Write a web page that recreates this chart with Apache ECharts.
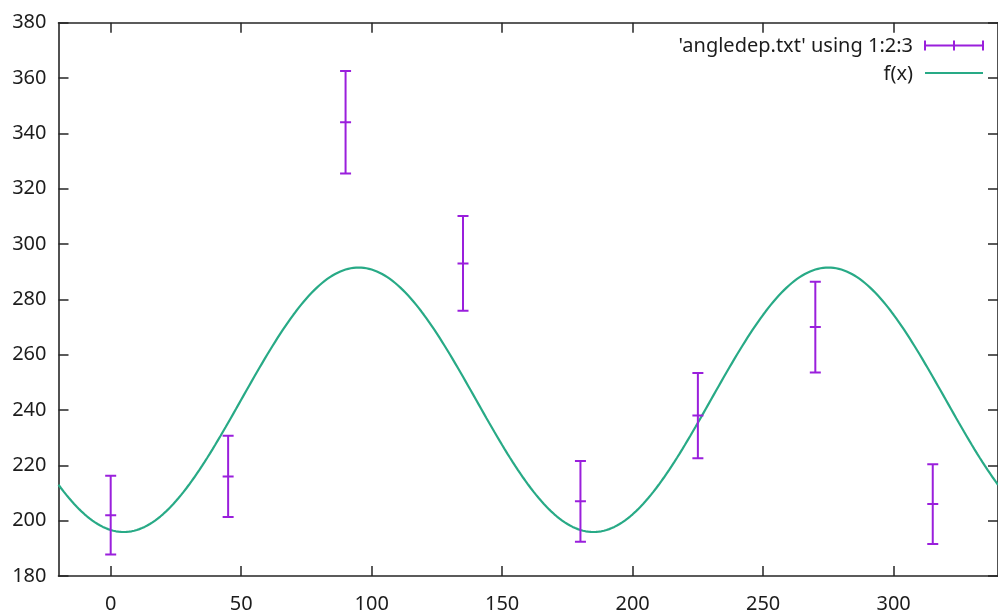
<!DOCTYPE html>
<html>
<head>
<meta charset="utf-8">
<script src="https://cdn.jsdelivr.net/npm/echarts@6/dist/echarts.min.js"></script>
<style>
  html, body { margin: 0; padding: 0; background: #fff; }
  #chart { width: 998px; height: 614px; }
</style>
</head>
<body>
<div id="chart"></div>
<script>
// Measured angle dependence: angle (deg), counts, uncertainty
var angles = [0, 45, 90, 135, 180, 225, 270, 315];
var counts = [202, 216, 344, 293, 207, 238, 270, 206];
var errors = [14.2, 14.7, 18.5, 17.1, 14.6, 15.4, 16.4, 14.4];

// Fitted model f(x) = offset - amp * cos(2 (x - phase))
var fitOffset = 243.7;
var fitAmp = 47.8;
var fitPhase = 5;

var xTicks = [0, 50, 100, 150, 200, 250, 300];
var yTicks = [180, 200, 220, 240, 260, 280, 300, 320, 340, 360, 380];

var X_MIN = -20, X_MAX = 340, Y_MIN = 180, Y_MAX = 380;

var fitCurve = [];
for (var x = X_MIN; x <= X_MAX; x += 1) {
  fitCurve.push([x, fitOffset - fitAmp * Math.cos(2 * (x - fitPhase) * Math.PI / 180)]);
}

var errData = angles.map(function (a, i) { return [a, counts[i], errors[i]]; });

var PURPLE = '#9a1fdc';
var GREEN = '#28aa86';
var AXIS = '#262626';
var TEXT = '#1c1c1c';
var FONT = 'Noto Sans';
var FS = 20;

var chart = echarts.init(document.getElementById('chart'), null, { renderer: 'canvas' });

function xAxisDef(pos, showLabels) {
  return {
    type: 'value', position: pos, min: X_MIN, max: X_MAX, interval: 50,
    axisLine: { show: true, onZero: false, lineStyle: { color: AXIS, width: 1.6 } },
    axisTick: { show: true, inside: true, length: 10, lineStyle: { color: AXIS, width: 1.5 },
      customValues: xTicks },
    axisLabel: { show: showLabels, customValues: xTicks, color: TEXT, fontFamily: FONT, fontSize: FS, margin: 18 },
    splitLine: { show: false }
  };
}
function yAxisDef(pos, showLabels) {
  return {
    type: 'value', position: pos, min: Y_MIN, max: Y_MAX, interval: 20,
    axisLine: { show: true, onZero: false, lineStyle: { color: AXIS, width: 1.6 } },
    axisTick: { show: true, inside: true, length: 10, lineStyle: { color: AXIS, width: 1.5 } },
    axisLabel: { show: showLabels, color: TEXT, fontFamily: FONT, fontSize: FS, margin: 12 },
    splitLine: { show: false }
  };
}

var legendY1 = 45.5, legendY2 = 73, legTextX = 913, legL = 925, legR = 983;
var legFont = FS + 'px "' + FONT + '"';

chart.setOption({
  animation: false,
  backgroundColor: '#ffffff',
  grid: { left: 58.5, right: -8, top: 22.7, bottom: 36.7, containLabel: false },
  xAxis: [xAxisDef('bottom', true), xAxisDef('top', false)],
  yAxis: [yAxisDef('left', true), yAxisDef('right', false)],
  series: [
    {
      name: 'f(x)', type: 'line', xAxisIndex: 0, yAxisIndex: 0,
      data: fitCurve, showSymbol: false, smooth: false, clip: true,
      lineStyle: { color: GREEN, width: 2.2 }, z: 2
    },
    {
      name: "'angledep.txt' using 1:2:3", type: 'custom', xAxisIndex: 0, yAxisIndex: 0,
      data: errData, z: 3, clip: true,
      renderItem: function (params, api) {
        var x = api.value(0), y = api.value(1), e = api.value(2);
        var c = api.coord([x, y]);
        var top = api.coord([x, y + e]);
        var bot = api.coord([x, y - e]);
        var hw = 5.5;
        var st = { stroke: PURPLE, lineWidth: 2 };
        return {
          type: 'group',
          children: [
            { type: 'line', shape: { x1: c[0], y1: top[1], x2: c[0], y2: bot[1] }, style: st },
            { type: 'line', shape: { x1: c[0] - hw, y1: top[1], x2: c[0] + hw, y2: top[1] }, style: st },
            { type: 'line', shape: { x1: c[0] - hw, y1: bot[1], x2: c[0] + hw, y2: bot[1] }, style: st },
            { type: 'line', shape: { x1: c[0] - hw, y1: c[1], x2: c[0] + hw, y2: c[1] }, style: st }
          ]
        };
      }
    }
  ],
  graphic: [
    { type: 'text', x: legTextX, y: legendY1 + 1, z: 10,
      style: { text: "'angledep.txt' using 1:2:3", fill: TEXT, font: legFont, align: 'right', verticalAlign: 'middle' } },
    { type: 'line', z: 10, shape: { x1: legL, y1: legendY1, x2: legR, y2: legendY1 }, style: { stroke: PURPLE, lineWidth: 2 } },
    { type: 'line', z: 10, shape: { x1: legL, y1: legendY1 - 5, x2: legL, y2: legendY1 + 5 }, style: { stroke: PURPLE, lineWidth: 2 } },
    { type: 'line', z: 10, shape: { x1: legR, y1: legendY1 - 5, x2: legR, y2: legendY1 + 5 }, style: { stroke: PURPLE, lineWidth: 2 } },
    { type: 'line', z: 10, shape: { x1: (legL + legR) / 2, y1: legendY1 - 5, x2: (legL + legR) / 2, y2: legendY1 + 5 }, style: { stroke: PURPLE, lineWidth: 2 } },
    { type: 'text', x: legTextX, y: legendY2 + 1, z: 10,
      style: { text: 'f(x)', fill: TEXT, font: legFont, align: 'right', verticalAlign: 'middle' } },
    { type: 'line', z: 10, shape: { x1: legL, y1: legendY2, x2: legR, y2: legendY2 }, style: { stroke: GREEN, lineWidth: 2.2 } }
  ]
});
</script>
</body>
</html>
